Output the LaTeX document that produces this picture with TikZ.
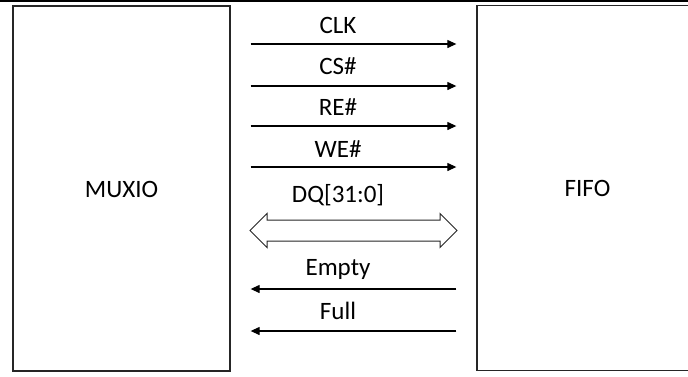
\documentclass[tikz,border=0pt]{standalone}
\usepackage{fontspec}
\setmainfont{Carlito}
\usetikzlibrary{arrows.meta,shapes.arrows}
\begin{document}
\begin{tikzpicture}[x=1pt,y=-1pt,
  font=\fontsize{25}{30}\selectfont,
  block/.style={draw=black!85,line width=1.3pt,fill=white,inner sep=0pt},
  sig/.style={line width=1.2pt,shorten <=20pt,shorten >=20pt,-{Triangle[length=9pt,width=8pt]}},
  lbl/.style={anchor=base,inner sep=0pt}]
\useasboundingbox (0,0) rectangle (688,376);
\clip (0,0) rectangle (688,376);
% rule along the top edge
\draw[line width=2pt] (0,1) -- (688,1);
% the two blocks
\node[block,minimum width=217pt,minimum height=365pt] (mux) at (121.5,188.5) {};
\node[lbl] at ([yshift=-8.5pt]mux.center) {MUXIO};
\node[block,minimum width=221pt,minimum height=365pt] (fifo) at (587.5,188) {};
\node[lbl] at ([yshift=-8.5pt]fifo.center) {FIFO};
% control signals, MUXIO to FIFO
\draw[sig] (mux.east |- 0,44) -- (fifo.west |- 0,44);
\draw[sig] (mux.east |- 0,86) -- (fifo.west |- 0,86);
\draw[sig] (mux.east |- 0,126) -- (fifo.west |- 0,126);
\draw[sig] (mux.east |- 0,167) -- (fifo.west |- 0,167);
% status flags, FIFO to MUXIO
\draw[sig] (fifo.west |- 0,289) -- (mux.east |- 0,289);
\draw[sig] (fifo.west |- 0,331) -- (mux.east |- 0,331);
% data bus
\node[double arrow,draw=black!85,line width=1pt,fill=white,
  inner xsep=0pt,inner ysep=10pt,text height=0pt,text depth=0pt,
  minimum height=207pt,minimum width=33pt,double arrow head extend=6.5pt,
  double arrow tip angle=90] (dq) at (353.5,230.5) {};
% labels
\node[lbl] (lclk) at (338,33.5) {CLK};
\node[lbl] (lcs) at (338,74.5) {CS\#};
\node[lbl] (lre) at (338,115.5) {RE\#};
\node[lbl] (lwe) at (338,157) {WE\#};
\node[lbl] (ldq) at (338,202.5) {DQ[31:0]};
\node[lbl] (lempty) at (338,275.5) {Empty};
\node[lbl] (lfull) at (338,319.5) {Full};
\end{tikzpicture}
\end{document}
